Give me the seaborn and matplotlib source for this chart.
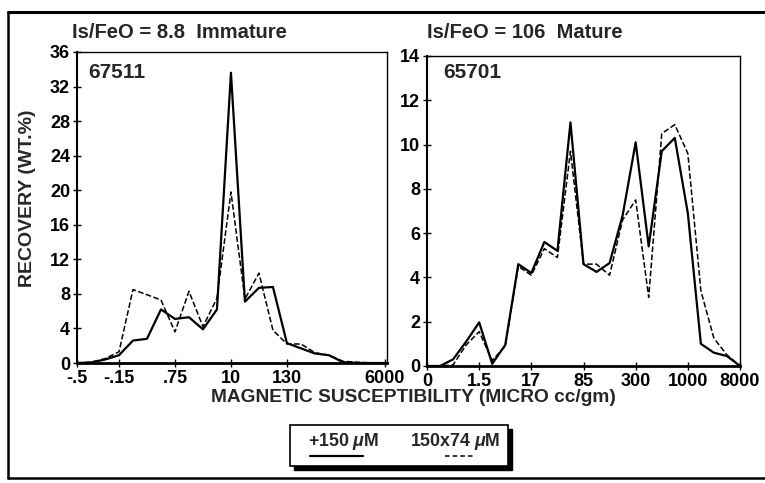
import pandas as pd
import matplotlib.pyplot as plt
import seaborn as sns
from matplotlib.lines import Line2D
from matplotlib.patches import Rectangle

# Sample 67511 (immature), recovery per susceptibility fraction
left_plus150 = [0, 0.05, 0.4, 0.9, 2.6, 2.8, 6.2, 5.1, 5.3, 3.9, 6.2, 33.6, 7.1, 8.7, 8.8,
                2.3, 1.7, 1.1, 0.9, 0.1, 0, 0, 0]
left_150x74 = [0, 0.1, 0.5, 1.3, 8.5, 7.9, 7.3, 3.6, 8.3, 4.2, 7.5, 19.8, 7.4, 10.4, 3.8,
               2.2, 2.2, 1.2, 0.9, 0.2, 0.1, 0, 0]
left_tick_pos = [0, 3, 7, 11, 15, 22]
left_tick_labels = ['-.5', '-.15', '.75', '10', '130', '6000']

# Sample 65701 (mature)
right_plus150 = [0, 0, 0.3, 1.1, 1.97, 0.1, 0.95, 4.6, 4.2, 5.6, 5.2, 11.0, 4.6, 4.25, 4.65,
                 6.8, 10.1, 5.4, 9.7, 10.3, 6.9, 1.0, 0.6, 0.45, 0]
right_150x74 = [0, 0, 0.05, 0.95, 1.55, 0.25, 0.9, 4.5, 4.1, 5.3, 4.9, 9.7, 4.6, 4.6, 4.1,
                6.6, 7.5, 3.1, 10.5, 10.9, 9.6, 3.4, 1.25, 0.5, 0]
right_tick_pos = [0, 4, 8, 12, 16, 20, 24]
right_tick_labels = ['0', '1.5', '17', '85', '300', '1000', '8000']

sns.set_style('ticks')
plt.rcParams['font.family'] = ['Liberation Sans', 'DejaVu Sans']
plt.rcParams['font.weight'] = 'bold'
plt.rcParams['mathtext.fontset'] = 'custom'
plt.rcParams['mathtext.rm'] = 'Liberation Sans:bold'
plt.rcParams['mathtext.it'] = 'Liberation Sans:italic:bold'

W, H = 765, 483
fig = plt.figure(figsize=(W / 100, H / 100), dpi=100)


def fx(px):
    return px / W


def fy(py):
    return 1 - py / H


def panel(rect, plus150, fine, tick_pos, tick_labels, xmax, ymax, ystep):
    ax = fig.add_axes(rect)
    df = pd.DataFrame({'idx': range(len(plus150)), 'plus': plus150, 'fine': fine})
    sns.lineplot(data=df, x='idx', y='plus', ax=ax, color='black', lw=1.6)
    sns.lineplot(data=df, x='idx', y='fine', ax=ax, color='black', lw=1.1,
                 dashes=(5, 3), linestyle='--')
    ax.set_xlim(0, xmax)
    ax.set_ylim(0, ymax)
    ax.set_xticks(tick_pos)
    ax.set_xticklabels(tick_labels)
    ax.set_yticks(range(0, ymax + 1, ystep))
    ax.set_xlabel('')
    ax.set_ylabel('')
    ax.tick_params(direction='inout', length=6, width=1, labelsize=13, pad=2, colors='black')
    for lab in ax.get_xticklabels() + ax.get_yticklabels():
        lab.set_fontweight('bold')
    for s in ax.spines.values():
        s.set_visible(True)
        s.set_color('black')
        s.set_linewidth(1.0)
    ax.spines['bottom'].set_linewidth(2.0)
    ax.spines['left'].set_linewidth(1.5)
    return ax


ax1 = panel([fx(77), fy(363), fx(310), 311 / H], left_plus150, left_150x74,
            left_tick_pos, left_tick_labels, 22.15, 36, 4)
ax2 = panel([fx(427), fy(366), fx(313), 310 / H], right_plus150, right_150x74,
            right_tick_pos, right_tick_labels, 24, 14, 2)

fig.text(fx(72), fy(32), 'Is/FeO = 8.8  Immature', fontsize=14.5, fontweight='bold', va='center')
fig.text(fx(427), fy(32), 'Is/FeO = 106  Mature', fontsize=14.5, fontweight='bold', va='center')
fig.text(fx(88), fy(72), '67511', fontsize=15, fontweight='bold', va='center')
fig.text(fx(443), fy(72), '65701', fontsize=15, fontweight='bold', va='center')
fig.text(fx(28), fy(198), 'RECOVERY (WT.%)', fontsize=14, fontweight='bold',
         rotation=90, ha='center', va='center')
fig.text(fx(413), fy(398), 'MAGNETIC SUSCEPTIBILITY (MICRO cc/gm)', fontsize=13.8,
         fontweight='bold', ha='center', va='center')

# legend box with drop shadow
fig.patches.append(Rectangle((fx(294), fy(470)), fx(218), 41 / H, transform=fig.transFigure,
                             facecolor='black', edgecolor='black', zorder=1))
fig.patches.append(Rectangle((fx(290), fy(466)), fx(218), 41 / H, transform=fig.transFigure,
                             facecolor='white', edgecolor='black', lw=1.2, zorder=2))
fig.text(fx(344), fy(441), '+150 $\\mathit{\\mu}$M', fontsize=12.8, fontweight='bold',
         ha='center', va='center', zorder=3)
fig.text(fx(455), fy(441), '150x74 $\\mathit{\\mu}$M', fontsize=12.8, fontweight='bold',
         ha='center', va='center', zorder=3)
fig.lines.append(Line2D([fx(310), fx(363)], [fy(456), fy(456)], transform=fig.transFigure,
                        color='black', lw=1.6, zorder=3))
fig.lines.append(Line2D([fx(445), fx(473)], [fy(456), fy(456)], transform=fig.transFigure,
                        color='black', lw=1.1, dashes=(3, 2), zorder=3))

# outer frame
fig.lines.append(Line2D([fx(8), fx(765)], [fy(12), fy(12)], transform=fig.transFigure,
                        color='black', lw=2.2))
fig.lines.append(Line2D([fx(8), fx(8)], [fy(12), fy(478)], transform=fig.transFigure,
                        color='black', lw=1.8))
fig.lines.append(Line2D([fx(8), fx(765)], [fy(478), fy(478)], transform=fig.transFigure,
                        color='black', lw=1.8))

fig.savefig('out.png', dpi=100)
plt.close(fig)
